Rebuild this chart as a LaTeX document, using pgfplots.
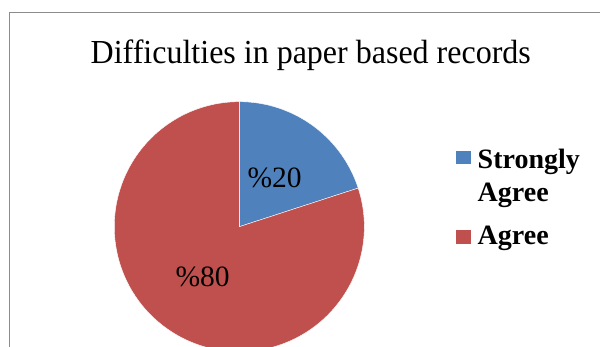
\documentclass[border=0pt]{standalone}
\usepackage{pgfplots}
\pgfplotsset{compat=1.18}
\usepackage{pgfplotstable}
\usepackage{fontspec}
\setmainfont{Liberation Serif}

\definecolor{sliceblue}{HTML}{4F81BD}
\definecolor{slicered}{HTML}{C0504D}
\definecolor{framegray}{HTML}{8C8C8C}

% survey answers (percent)
\pgfplotstableread[col sep=comma]{
label,value
Strongly Agree,20
Agree,80
}\responses

\begin{document}
\begin{tikzpicture}[x=1pt,y=1pt]
\useasboundingbox (0,0) rectangle (600,347);
\clip (0,0) rectangle (600,347);

% chart frame (left and top edges)
\draw[framegray, line width=1.2pt] (9.4,-10) -- (9.4,334.7) -- (620,334.7);

% slice angles, clockwise from 12 o'clock
\pgfplotstablegetelem{0}{value}\of\responses \let\va\pgfplotsretval
\pgfplotstablegetelem{1}{value}\of\responses \let\vb\pgfplotsretval
\pgfmathsetmacro{\aStart}{90}
\pgfmathsetmacro{\aMid}{90-3.6*\va}
\pgfmathsetmacro{\aEnd}{\aMid-3.6*\vb}
\pgfmathsetmacro{\mA}{90-1.8*\va}
\pgfmathsetmacro{\mB}{\aMid-1.8*\vb}

\begin{axis}[
  at={(239.3pt,120.3pt)}, anchor=origin,
  x=125pt, y=125pt,
  xmin=-1.1, xmax=1.1, ymin=-1.1, ymax=1.1,
  hide axis, clip=false,
]
\fill[sliceblue, draw=white, line width=0.4pt]
  (axis cs:0,0) -- (axis cs:{cos(\aStart)},{sin(\aStart)})
  arc[start angle=\aStart, end angle=\aMid, radius=125pt] -- cycle;
\fill[slicered, draw=white, line width=0.4pt]
  (axis cs:0,0) -- (axis cs:{cos(\aMid)},{sin(\aMid)})
  arc[start angle=\aMid, end angle=\aEnd, radius=125pt] -- cycle;
\node[font=\fontsize{29.5}{35}\selectfont, inner sep=0pt]
  at (axis cs:{0.48*cos(\mA)},{0.48*sin(\mA)}) {\%\va};
\node[font=\fontsize{29.5}{35}\selectfont, inner sep=0pt]
  at (axis cs:{0.50*cos(\mB)},{0.50*sin(\mB)}) {\%\vb};
\end{axis}

% title
\node[anchor=base, inner sep=0pt, font=\fontsize{32}{38}\selectfont]
  at (310.8,283.7) {\scalebox{1}[1.05]{Difficulties in paper based records}};

% legend
\fill[sliceblue] (456,182.7) rectangle (470.7,196.3);
\node[anchor=base west, inner sep=0pt, font=\bfseries\fontsize{28}{33.6}\selectfont]
  at (477.5,178.7) {Strongly};
\node[anchor=base west, inner sep=0pt, font=\bfseries\fontsize{28}{33.6}\selectfont]
  at (477.5,145.3) {Agree};
\fill[slicered] (456,102.7) rectangle (470.7,117);
\node[anchor=base west, inner sep=0pt, font=\bfseries\fontsize{28}{33.6}\selectfont]
  at (477.5,102) {Agree};
\end{tikzpicture}
\end{document}
